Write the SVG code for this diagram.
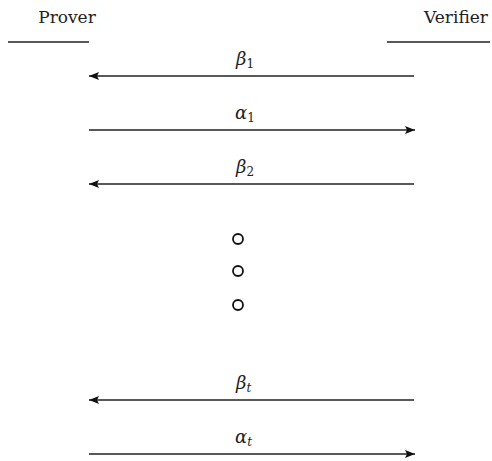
<svg xmlns="http://www.w3.org/2000/svg" width="492" height="461" viewBox="0 0 492 461">
<defs>
<style>
.t{font-family:"DejaVu Serif",serif;font-size:17px;fill:#222}
.m{font-family:"DejaVu Serif",serif;font-style:italic;font-size:18px;fill:#222}
.s{font-family:"DejaVu Serif",serif;font-size:12px;fill:#222}
.si{font-family:"DejaVu Serif",serif;font-style:italic;font-size:12px;fill:#222}
.l{stroke:#222;stroke-width:1.6;fill:none}
.c{stroke:#111;stroke-width:1.8;fill:none}
</style>
<marker id="ah" viewBox="0 0 10 8" refX="10" refY="4" markerWidth="10" markerHeight="8" markerUnits="userSpaceOnUse" orient="auto">
<path d="M0,0 L10,4 L0,8 L2,4 Z" fill="#111"/>
</marker>
</defs>
<g id="prover">
<text class="t" x="67" y="23" text-anchor="middle">Prover</text>
<line class="l" x1="8" y1="42" x2="89" y2="42"/>
</g>
<g id="verifier">
<text class="t" x="456" y="23" text-anchor="middle">Verifier</text>
<line class="l" x1="387" y1="42" x2="490" y2="42"/>
</g>
<g id="dots">
<circle class="c" cx="238" cy="239" r="5"/>
<circle class="c" cx="238" cy="271" r="5"/>
<circle class="c" cx="238" cy="305" r="5"/>
</g>
<g id="connectors">
<line class="l" x1="414" y1="76" x2="89" y2="76" marker-end="url(#ah)"/>
<line class="l" x1="89" y1="130" x2="415" y2="130" marker-end="url(#ah)"/>
<line class="l" x1="414" y1="184" x2="89" y2="184" marker-end="url(#ah)"/>
<line class="l" x1="414" y1="400" x2="89" y2="400" marker-end="url(#ah)"/>
<line class="l" x1="89" y1="454" x2="415" y2="454" marker-end="url(#ah)"/>
</g>
<g id="labels">
<text x="236" y="65"><tspan class="m">β</tspan><tspan class="s" dy="3">1</tspan></text>
<text x="235" y="119"><tspan class="m">α</tspan><tspan class="s" dy="3">1</tspan></text>
<text x="236" y="173"><tspan class="m">β</tspan><tspan class="s" dy="3">2</tspan></text>
<text x="236" y="389"><tspan class="m">β</tspan><tspan class="si" dy="3">t</tspan></text>
<text x="235" y="443"><tspan class="m">α</tspan><tspan class="si" dy="3">t</tspan></text>
</g>
</svg>
